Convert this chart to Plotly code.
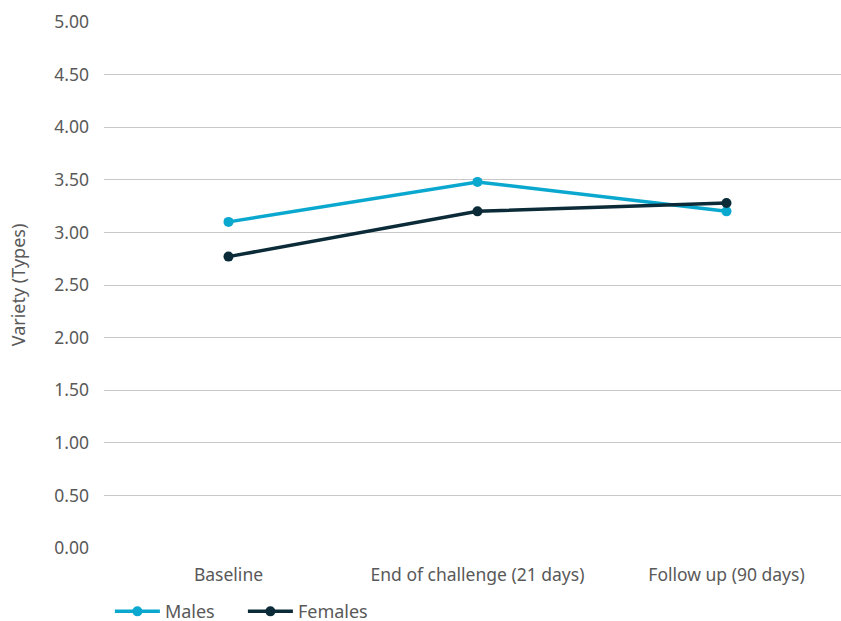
import plotly.graph_objects as go

categories = ["Baseline", "End of challenge (21 days)", "Follow up (90 days)"]
males = [3.10, 3.48, 3.20]
females = [2.77, 3.20, 3.28]
y_ticks = [0, 0.5, 1, 1.5, 2, 2.5, 3, 3.5, 4, 4.5, 5]
y_tick_labels = ["%.2f" % v for v in y_ticks]

font_family = "Noto Sans, Open Sans, sans-serif"
text_color = "#595959"

fig = go.Figure()
fig.add_trace(go.Scatter(
    x=list(range(len(categories))), y=males, name="Males", mode="lines+markers",
    line=dict(color="#0aa8cf", width=3.5), marker=dict(size=10, color="#0aa8cf")))
fig.add_trace(go.Scatter(
    x=list(range(len(categories))), y=females, name="Females", mode="lines+markers",
    line=dict(color="#0c2b38", width=3.5), marker=dict(size=10, color="#0c2b38")))

fig.update_layout(
    width=841, height=621,
    margin=dict(l=104, r=0, t=22, b=73, autoexpand=False),
    paper_bgcolor="white", plot_bgcolor="white",
    font=dict(family=font_family, size=17.5, color=text_color),
    showlegend=True,
    legend=dict(orientation="h", x=0.008, xanchor="left", y=-0.121, yanchor="middle",
                font=dict(size=18, color=text_color), itemwidth=45, entrywidth=73,
                tracegroupgap=0),
)
fig.update_xaxes(
    tickmode="array", tickvals=list(range(len(categories))), ticktext=categories,
    range=[-0.5, 2.46], showgrid=False, zeroline=False, showline=False,
    ticks="", ticklabelstandoff=14, automargin=False,
)
fig.update_yaxes(
    range=[0, 5], tickmode="array", tickvals=y_ticks, ticktext=y_tick_labels,
    showgrid=True, gridcolor="#c8c8c8", gridwidth=1, zeroline=False, showline=False,
    ticks="", ticklabelstandoff=14, automargin=False,
    title=dict(text="Variety (Types)", font=dict(size=18, color=text_color), standoff=23),
)
fig.write_html(
    "out.html",
    config={"displayModeBar": False},
    post_script="document.body.style.margin='0';document.body.style.overflow='hidden';",
)
